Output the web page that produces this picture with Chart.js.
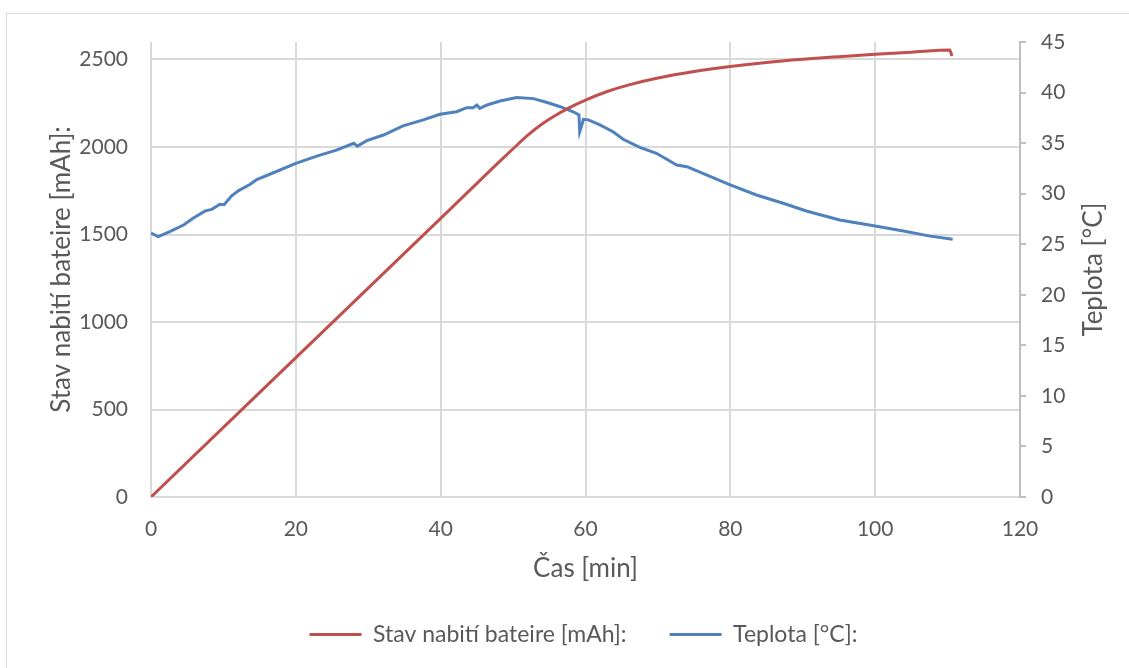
<!DOCTYPE html>
<html>
<head>
<meta charset="utf-8">
<script src="https://cdn.jsdelivr.net/npm/chart.js@4/dist/chart.umd.min.js"></script>
<style>
  body { margin: 0; background: #fff; }
  #frame { position: absolute; left: 6px; top: 13px; width: 1130px; height: 660px; border: 1px solid #d9d9d9; }
  #wrap { position: absolute; left: 0; top: 0; width: 1129px; height: 668px; }
</style>
</head>
<body>
<div id="frame"></div>
<div id="wrap"><canvas id="chart"></canvas></div>
<script>
// charge [mAh] vs time [min]
const chargeTime = [0, 40, 48, 50, 52, 54, 56, 58, 60, 63, 66, 70, 75, 80, 85, 90, 95, 100, 105, 110.3, 110.6];
const chargeMah = [0, 1592, 1912, 1990, 2066, 2131, 2184, 2229, 2268, 2317, 2355, 2394, 2431, 2460, 2483, 2501, 2516, 2530, 2542, 2555, 2520];

// temperature [°C] vs time [min]
const tempTime = [0, 1.0, 2.6, 4.5, 5.8, 7.5, 8.4, 9.5, 10.1, 11.1, 12.1, 13.7, 14.6, 16.9, 20, 22.9, 25.6, 28.0, 28.5, 29.8, 32.1, 34.8, 37.6, 39.9, 42.2, 43.6, 44.5, 45.0, 45.4, 46.4, 48.2, 50.5, 52.8, 54.6, 56.5, 58.3, 59.1, 59.2, 59.5, 59.7, 60.4, 62.0, 63.8, 65.2, 67.5, 69.8, 72.6, 74.0, 76.7, 79.9, 83.6, 87.3, 90.5, 95.1, 100, 103.9, 107.6, 110.7];
const tempC = [26.1, 25.75, 26.24, 26.9, 27.56, 28.3, 28.45, 28.95, 28.9, 29.77, 30.3, 30.93, 31.4, 32.07, 33.0, 33.72, 34.3, 34.98, 34.7, 35.24, 35.8, 36.7, 37.3, 37.85, 38.1, 38.5, 38.5, 38.77, 38.44, 38.77, 39.16, 39.5, 39.4, 39.04, 38.6, 38.1, 37.78, 36.13, 36.8, 37.35, 37.3, 36.8, 36.13, 35.38, 34.58, 33.99, 32.84, 32.67, 31.85, 30.9, 29.87, 29.05, 28.29, 27.4, 26.8, 26.3, 25.8, 25.5];

// tick labels
const xTicks = [0, 20, 40, 60, 80, 100, 120];
const leftTicks = [0, 500, 1000, 1500, 2000, 2500];
const rightTicks = [0, 5, 10, 15, 20, 25, 30, 35, 40, 45];

const seriesNames = ['Stav nabití bateire [mAh]:', 'Teplota [°C]:'];
const xTitle = 'Čas [min]';
const yTitle = 'Stav nabití bateire [mAh]:';
const y1Title = 'Teplota [°C]';

const textColor = '#595959';
const gridColor = '#d9d9d9';
const font = 'Lato, "Open Sans", sans-serif';

// right axis title reads bottom-to-top like in Excel
const rightTitle = {
  id: 'rightTitle',
  afterDraw(chart) {
    const ctx = chart.ctx;
    const s = chart.scales.y1;
    ctx.save();
    ctx.translate(s.right - 35, (s.top + s.bottom) / 2);
    ctx.rotate(-Math.PI / 2);
    ctx.font = '26px ' + font;
    ctx.fillStyle = textColor;
    ctx.textAlign = 'center';
    ctx.textBaseline = 'middle';
    ctx.fillText(y1Title, 0, 0);
    ctx.restore();
  }
};

const setTicks = list => s => { s.ticks = list.map(v => ({ value: v })); };

const ctx = document.getElementById('chart').getContext('2d');
const myChart = new Chart(ctx, {
  type: 'line',
  data: {
    datasets: [{
      label: seriesNames[0],
      data: chargeTime.map((t, i) => ({ x: t, y: chargeMah[i] })),
      borderColor: '#c0504d',
      backgroundColor: '#c0504d',
      borderWidth: 3,
      pointRadius: 0,
      cubicInterpolationMode: 'monotone',
      yAxisID: 'y'
    }, {
      label: seriesNames[1],
      data: tempTime.map((t, i) => ({ x: t, y: tempC[i] })),
      borderColor: '#4f81bd',
      backgroundColor: '#4f81bd',
      borderWidth: 3,
      pointRadius: 0,
      tension: 0,
      yAxisID: 'y1'
    }]
  },
  options: {
    responsive: true,
    maintainAspectRatio: false,
    animation: false,
    layout: { padding: { left: 38, top: 42, right: 0, bottom: 12 } },
    plugins: {
      tooltip: { enabled: false },
      legend: {
        position: 'bottom',
        labels: {
          usePointStyle: true,
          pointStyle: 'line',
          pointStyleWidth: 52,
          padding: 43,
          color: textColor,
          font: { family: font, size: 23 }
        }
      }
    },
    scales: {
      x: {
        type: 'linear',
        min: 0,
        max: 120,
        afterBuildTicks: setTicks(xTicks),
        ticks: { padding: 20, color: textColor, font: { family: font, size: 21 } },
        grid: { color: gridColor, lineWidth: 2, drawTicks: false },
        border: { color: gridColor, width: 2 },
        title: { display: true, text: xTitle, color: textColor, font: { family: font, size: 26 }, padding: { top: 0, bottom: -4 } },
        afterFit(s) { s.height = 83; }
      },
      y: {
        position: 'left',
        min: 0,
        max: 2600,
        afterBuildTicks: setTicks(leftTicks),
        ticks: { padding: 23, color: textColor, font: { family: font, size: 21 }, callback: v => String(v) },
        grid: { color: gridColor, lineWidth: 2, drawTicks: false },
        border: { display: false },
        title: { display: true, text: yTitle, color: textColor, font: { family: font, size: 26 }, padding: { top: 8, bottom: 0 } },
        afterFit(s) { s.width = 113; }
      },
      y1: {
        position: 'right',
        min: 0,
        max: 45,
        afterBuildTicks: setTicks(rightTicks),
        ticks: { padding: 15, color: textColor, font: { family: font, size: 21 } },
        grid: { drawOnChartArea: false, color: '#bfbfbf', lineWidth: 2, tickLength: 6 },
        border: { color: '#bfbfbf', width: 2 },
        afterFit(s) { s.width = 109; }
      }
    }
  },
  plugins: [rightTitle]
});
</script>
</body>
</html>
